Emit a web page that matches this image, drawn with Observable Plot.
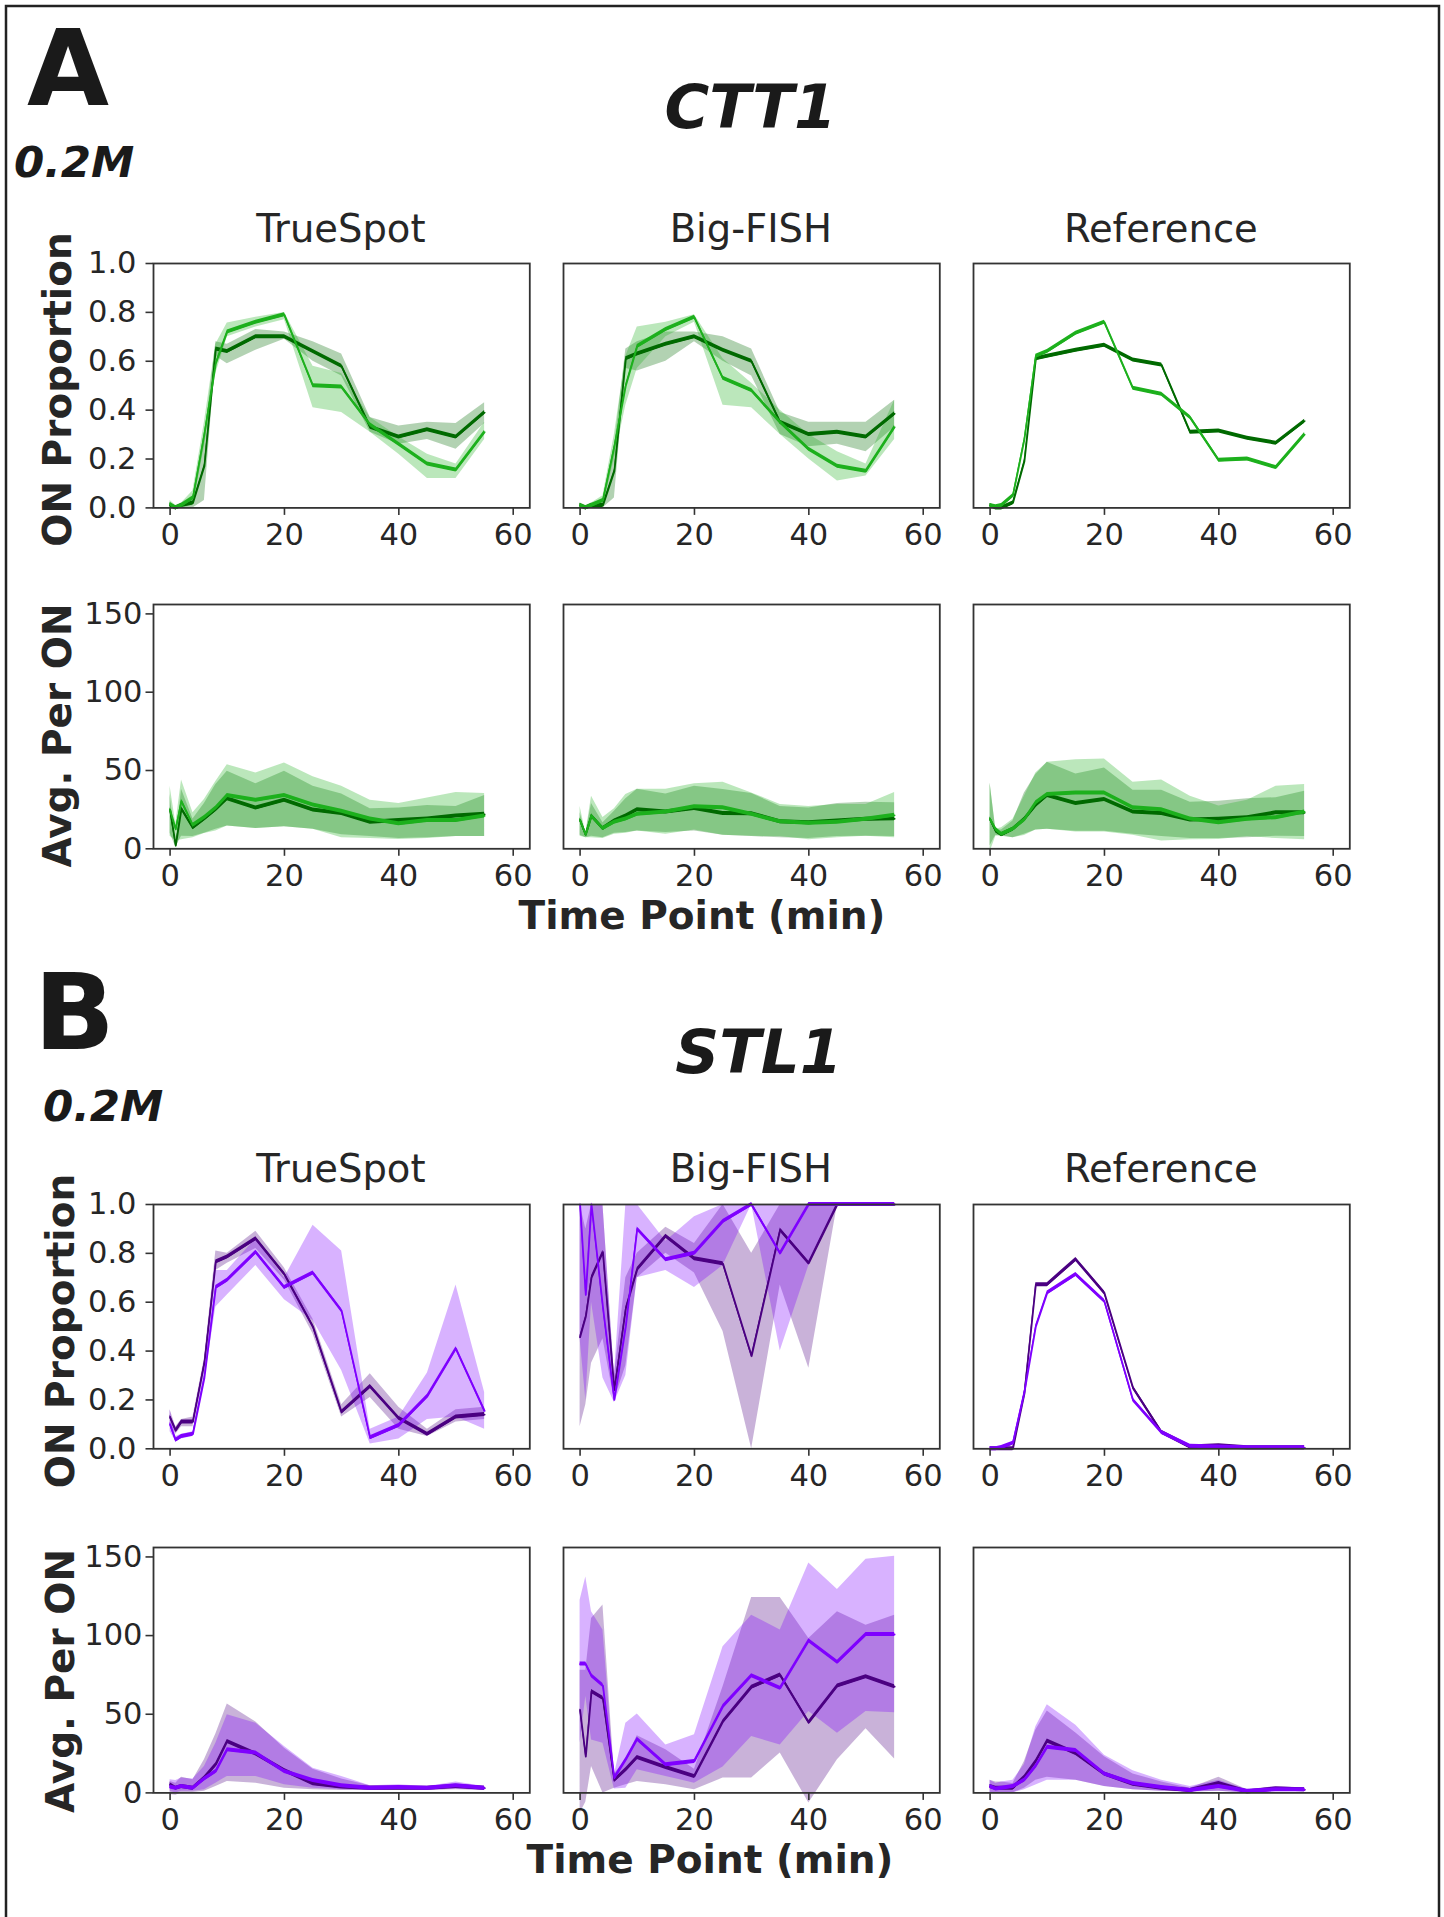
<!DOCTYPE html>
<html><head><meta charset="utf-8">
<script src="https://cdn.jsdelivr.net/npm/d3@7"></script>
<script src="https://cdn.jsdelivr.net/npm/@observablehq/plot@0.6"></script>
<style>
body{margin:0;background:#fff;}
#fig{position:relative;width:1444px;height:1917px;overflow:hidden;background:#fff;}
#fig svg.panel{position:absolute;}
</style></head><body><div id="fig"></div>
<script>
// ---------------- DATA ----------------
const times = [0,1,2,4,6,8,10,15,20,25,30,35,40,45,50,55];
const methods = ["TrueSpot","Big-FISH","Reference"];
const xTicks = [0,20,40,60];
const onTicks = [0,0.2,0.4,0.6,0.8,1.0];
const avgTicks = [0,50,100,150];

// CTT1 – ON proportion
const ctt1_ts_on_dark    = [0.01,0.00,0.01,0.02,0.17,0.65,0.64,0.70,0.70,0.64,0.58,0.33,0.29,0.32,0.29,0.39];
const ctt1_ts_on_dark_lo = [0.00,0.00,0.00,0.00,0.03,0.62,0.59,0.645,0.69,0.60,0.54,0.31,0.26,0.28,0.24,0.345];
const ctt1_ts_on_dark_hi = [0.02,0.01,0.02,0.05,0.28,0.68,0.67,0.73,0.72,0.68,0.63,0.37,0.335,0.35,0.345,0.43];
const ctt1_ts_on_light    = [0.015,0.00,0.01,0.04,0.30,0.59,0.72,0.76,0.79,0.50,0.495,0.34,0.26,0.18,0.155,0.31];
const ctt1_ts_on_light_lo = [0.00,0.00,0.00,0.01,0.25,0.55,0.70,0.74,0.77,0.41,0.39,0.31,0.22,0.12,0.12,0.28];
const ctt1_ts_on_light_hi = [0.03,0.01,0.02,0.07,0.35,0.67,0.757,0.78,0.80,0.58,0.55,0.37,0.29,0.22,0.18,0.35];

const ctt1_bf_on_dark    = [0.01,0.00,0.01,0.01,0.15,0.61,0.63,0.67,0.70,0.645,0.60,0.35,0.30,0.31,0.29,0.385];
const ctt1_bf_on_dark_lo = [0.00,0.00,0.00,0.00,0.04,0.57,0.56,0.60,0.68,0.60,0.54,0.30,0.25,0.26,0.23,0.33];
const ctt1_bf_on_dark_hi = [0.02,0.01,0.02,0.03,0.25,0.65,0.68,0.72,0.72,0.70,0.65,0.39,0.35,0.35,0.35,0.44];
const ctt1_bf_on_light    = [0.01,0.00,0.01,0.03,0.25,0.50,0.66,0.73,0.78,0.53,0.48,0.35,0.24,0.17,0.15,0.33];
const ctt1_bf_on_light_lo = [0.00,0.00,0.00,0.01,0.20,0.42,0.57,0.70,0.76,0.42,0.41,0.30,0.20,0.11,0.13,0.28];
const ctt1_bf_on_light_hi = [0.02,0.01,0.02,0.05,0.30,0.62,0.74,0.76,0.79,0.61,0.51,0.40,0.30,0.23,0.18,0.44];

const ctt1_ref_on_dark  = [0.01,0.00,0.00,0.02,0.19,0.61,0.62,0.645,0.665,0.605,0.585,0.31,0.315,0.285,0.265,0.355];
const ctt1_ref_on_light = [0.01,0.005,0.01,0.05,0.28,0.62,0.64,0.715,0.76,0.49,0.465,0.37,0.195,0.20,0.165,0.30];

// CTT1 – Avg. per ON
const ctt1_ts_avg_dark    = [25,2,25.6,13.5,19,25,32,26,31,24.7,22.6,17,18,19,21,22];
const ctt1_ts_avg_dark_lo = [10,1,8,7.8,10,12.5,14.6,13,14,12.5,9,7.8,6.5,7,7.8,7.8];
const ctt1_ts_avg_dark_hi = [34.7,3,38,19,29,41,49.5,41.6,49.5,40,35,25.6,26,27.7,27,34];
const ctt1_ts_avg_light    = [25,12.5,30.4,15,20,26,34,31,34,28,24,19,16,18,18,21];
const ctt1_ts_avg_light_lo = [8,5,5.7,7,9.7,11.4,14.6,13,14,12.5,7,6.5,6,6.5,7.8,7.8];
const ctt1_ts_avg_light_hi = [40,16,44,23,31.5,43,53.7,48.4,54.8,46,40,31,29,32.5,36,35.3];

const ctt1_bf_avg_dark    = [18.4,8.9,21,12.9,17.8,21,25,23.5,25.8,22.6,22.4,17.3,16.7,17.8,18.8,19.2];
const ctt1_bf_avg_dark_lo = [8.7,7,8,7,10,10.4,11.4,10.4,11.4,8.7,7.8,7,6.5,7.8,8,7.8];
const ctt1_bf_avg_dark_hi = [23,10,29,16.7,24,32,38,35,40,37.8,35.3,27,26,29,29.8,29.4];
const ctt1_bf_avg_light    = [18.4,8.9,21,12.9,17,19,22,23.5,26.8,26.2,22,17.3,16.3,17,18.8,21.4];
const ctt1_bf_avg_light_lo = [8,7,7,6.5,9.3,10,11.4,9.3,12,8.7,8,7.8,5.7,7,8,7];
const ctt1_bf_avg_light_hi = [27,10,33.6,20,25.6,34.7,38,38,41.6,42.5,35.7,28.3,27,28.3,28.3,36];

const ctt1_ref_avg_dark    = [19,11.4,8.9,12.5,18.8,27.7,34,29,31.5,23.5,22.6,18.4,18.8,19.9,23,23];
const ctt1_ref_avg_dark_lo = [2,8.7,8,7,9.3,12,12.5,11.2,11.2,9.3,7.8,6.5,6.5,7,8,7.8];
const ctt1_ref_avg_dark_hi = [42,12,12,17.7,35.7,47.4,55.2,47.8,51.6,37.4,37.4,29.8,30.4,32,32.6,36.8];
const ctt1_ref_avg_light    = [19,12.5,9.3,12.5,18.4,29.4,34.7,35.7,35.7,26.2,25,19,16.7,18.8,19.9,23.5];
const ctt1_ref_avg_light_lo = [-2,8,8.5,7,8.5,12,12.5,10.8,10.8,8.7,5,5.7,6,7.8,6.5,5.7];
const ctt1_ref_avg_light_hi = [42,12.5,13.5,18.8,33.6,48.4,55.2,56.9,57.3,42.5,44,33.6,27.3,31,40,41];

// STL1 – ON proportion
const stl1_ts_on_dark    = [0.13,0.075,0.11,0.11,0.35,0.765,0.785,0.86,0.715,0.50,0.15,0.255,0.125,0.06,0.13,0.14];
const stl1_ts_on_dark_lo = [0.10,0.06,0.09,0.09,0.33,0.73,0.76,0.82,0.69,0.47,0.13,0.21,0.08,0.05,0.11,0.12];
const stl1_ts_on_dark_hi = [0.16,0.09,0.12,0.13,0.37,0.81,0.80,0.89,0.74,0.53,0.18,0.307,0.17,0.08,0.16,0.17];
const stl1_ts_on_light    = [0.10,0.035,0.05,0.06,0.29,0.66,0.69,0.805,0.66,0.72,0.565,0.045,0.095,0.215,0.41,0.155];
const stl1_ts_on_light_lo = [0.07,0.03,0.04,0.05,0.27,0.58,0.63,0.75,0.61,0.525,0.32,0.02,0.04,0.12,0.13,0.08];
const stl1_ts_on_light_hi = [0.16,0.05,0.06,0.07,0.33,0.73,0.73,0.86,0.70,0.915,0.81,0.08,0.13,0.31,0.67,0.23];

const stl1_bf_on_dark    = [0.457,0.54,0.70,0.805,0.24,0.573,0.734,0.87,0.778,0.757,0.38,0.896,0.76,1.0,1.0,1.0];
const stl1_bf_on_dark_lo = [0.09,0.18,0.35,0.45,0.20,0.34,0.70,0.80,0.72,0.48,0.0,0.67,0.33,1.0,1.0,1.0];
const stl1_bf_on_dark_hi = [1.0,0.90,1.0,1.0,0.30,0.70,0.80,0.907,0.84,1.0,0.80,1.0,1.0,1.0,1.0,1.0];
const stl1_bf_on_light    = [1.0,0.63,1.0,0.58,0.20,0.50,0.90,0.774,0.80,0.93,1.0,0.80,1.0,1.0,1.0,1.0];
const stl1_bf_on_light_lo = [0.45,0.20,0.60,0.29,0.19,0.30,0.70,0.73,0.66,0.75,1.0,0.40,0.75,1.0,1.0,1.0];
const stl1_bf_on_light_hi = [1.0,1.0,1.0,1.0,0.30,1.0,1.0,0.85,0.95,1.0,1.0,1.0,1.0,1.0,1.0,1.0];

const stl1_ref_on_dark  = [0.0,0.0,0.0,0.0,0.225,0.672,0.672,0.775,0.638,0.25,0.068,0.007,0.012,0.004,0.004,0.004];
const stl1_ref_on_light = [0.0,0.0,0.005,0.023,0.23,0.50,0.638,0.713,0.604,0.20,0.067,0.01,0.007,0.004,0.004,0.004];

// STL1 – Avg. per ON
const stl1_ts_avg_dark    = [5.2,3,4.1,3,9.4,17.9,32.7,24.8,14.3,5.8,3.7,3,3,3,4,3];
const stl1_ts_avg_dark_lo = [-1,-1.5,0,0.3,1,4,7.3,6.2,3,2,1.6,1.6,1.6,1.6,2,1.6];
const stl1_ts_avg_dark_hi = [7.3,6.2,10,8.4,21,37.5,56.5,45,28.4,15,8.8,4.5,4.5,3.7,5.8,3.7];
const stl1_ts_avg_light    = [3.7,3,4.1,3,8.8,13.6,27.4,25.3,13.6,7.9,4.5,3,3.5,3,4.5,3];
const stl1_ts_avg_light_lo = [1,0,1,1,2,6.2,10.5,10.5,5.2,3,2,1.6,2,1.6,2.4,1.6];
const stl1_ts_avg_light_hi = [8.4,7.9,9.4,8.8,16.8,31.6,49.6,44.3,29.5,15.7,10.5,4.5,5.2,4,6.9,4];

const stl1_bf_avg_dark    = [52.7,23.1,64.4,60.1,7.9,14.7,22.5,16.2,10.5,45.3,67.1,74.9,44.7,68,73.9,67.5];
const stl1_bf_avg_dark_lo = [-13,-6,16.8,0,3,5.2,7.3,5.2,2,9.4,9.4,25.3,-6.4,21,40.7,21.5];
const stl1_bf_avg_dark_hi = [78,78,110.9,119.4,12,21,36.3,27.4,15.1,67.5,124.2,124.2,98.2,115.1,106.6,113];
const stl1_bf_avg_light    = [81.9,81.9,74.5,68.2,9.4,21,34.1,17.9,20,54.9,74.5,66.5,96.7,83,100.7,100.7];
const stl1_bf_avg_light_lo = [31.6,61.2,33.7,31.6,2.4,3,14.7,10.5,6.2,16.4,35.8,30.5,51.7,37.9,51.7,51];
const stl1_bf_avg_light_hi = [122.5,137.3,115.1,103.5,11.5,44.3,50.2,30.5,36.9,92.9,113,103.5,146.2,129.3,148.5,150.4];

const stl1_ref_avg_dark    = [4,3,3,3,10,20,33,25,12,5.5,3,1.5,6,0.5,2.5,2];
const stl1_ref_avg_dark_lo = [0,0,0,0,3,8,10,8,4,2,1,0.5,1,0,1,1];
const stl1_ref_avg_dark_hi = [8,7,7,6,20,40,52,38,23,12,7,3,10,2,4,3];
const stl1_ref_avg_light    = [4,2.5,3,4,8,17,29,27,12,6,3.5,1.5,4,1,2,2];
const stl1_ref_avg_light_lo = [0,0,0,0,2,5,8,8,4,2,1,0.5,1,0,1,1];
const stl1_ref_avg_light_hi = [8,6,7,8,18,42,56,43,24,14,8,4,8,2,4,3];

// ---------------- STYLE / LAYOUT ----------------
const GREEN_DARK = "#006a00", GREEN_LIGHT = "#1db01d";
const PURPLE_DARK = "#4b0082", PURPLE_LIGHT = "#7f00ff";
const colLeft = [152.7, 562.7, 972.7];
const panelW = 376.3;
const rows = [
  {top: 263.3, bottom: 507.7, domain: [0, 1], ticks: onTicks, fmt: d3.format(".1f"), pad: 9.5},
  {top: 604.0, bottom: 848.3, domain: [0, 156], ticks: avgTicks, fmt: d => String(d), pad: 3.5},
  {top: 1204.0, bottom: 1448.3, domain: [0, 1], ticks: onTicks, fmt: d3.format(".1f"), pad: 9.5},
  {top: 1547.3, bottom: 1792.7, domain: [0, 156], ticks: avgTicks, fmt: d => String(d), pad: 3.5}
];

function series(mean, lo, hi) {
  return times.map((t, i) => ({t, v: mean[i], lo: lo ? lo[i] : null, hi: hi ? hi[i] : null}));
}

const panelDefs = [
  {r:0,c:0,col:[GREEN_DARK,GREEN_LIGHT],d:series(ctt1_ts_on_dark,ctt1_ts_on_dark_lo,ctt1_ts_on_dark_hi),l:series(ctt1_ts_on_light,ctt1_ts_on_light_lo,ctt1_ts_on_light_hi)},
  {r:0,c:1,col:[GREEN_DARK,GREEN_LIGHT],d:series(ctt1_bf_on_dark,ctt1_bf_on_dark_lo,ctt1_bf_on_dark_hi),l:series(ctt1_bf_on_light,ctt1_bf_on_light_lo,ctt1_bf_on_light_hi)},
  {r:0,c:2,col:[GREEN_DARK,GREEN_LIGHT],d:series(ctt1_ref_on_dark),l:series(ctt1_ref_on_light)},
  {r:1,c:0,col:[GREEN_DARK,GREEN_LIGHT],d:series(ctt1_ts_avg_dark,ctt1_ts_avg_dark_lo,ctt1_ts_avg_dark_hi),l:series(ctt1_ts_avg_light,ctt1_ts_avg_light_lo,ctt1_ts_avg_light_hi)},
  {r:1,c:1,col:[GREEN_DARK,GREEN_LIGHT],d:series(ctt1_bf_avg_dark,ctt1_bf_avg_dark_lo,ctt1_bf_avg_dark_hi),l:series(ctt1_bf_avg_light,ctt1_bf_avg_light_lo,ctt1_bf_avg_light_hi)},
  {r:1,c:2,col:[GREEN_DARK,GREEN_LIGHT],d:series(ctt1_ref_avg_dark,ctt1_ref_avg_dark_lo,ctt1_ref_avg_dark_hi),l:series(ctt1_ref_avg_light,ctt1_ref_avg_light_lo,ctt1_ref_avg_light_hi)},
  {r:2,c:0,col:[PURPLE_DARK,PURPLE_LIGHT],d:series(stl1_ts_on_dark,stl1_ts_on_dark_lo,stl1_ts_on_dark_hi),l:series(stl1_ts_on_light,stl1_ts_on_light_lo,stl1_ts_on_light_hi)},
  {r:2,c:1,col:[PURPLE_DARK,PURPLE_LIGHT],d:series(stl1_bf_on_dark,stl1_bf_on_dark_lo,stl1_bf_on_dark_hi),l:series(stl1_bf_on_light,stl1_bf_on_light_lo,stl1_bf_on_light_hi)},
  {r:2,c:2,col:[PURPLE_DARK,PURPLE_LIGHT],d:series(stl1_ref_on_dark),l:series(stl1_ref_on_light)},
  {r:3,c:0,col:[PURPLE_DARK,PURPLE_LIGHT],d:series(stl1_ts_avg_dark,stl1_ts_avg_dark_lo,stl1_ts_avg_dark_hi),l:series(stl1_ts_avg_light,stl1_ts_avg_light_lo,stl1_ts_avg_light_hi)},
  {r:3,c:1,col:[PURPLE_DARK,PURPLE_LIGHT],d:series(stl1_bf_avg_dark,stl1_bf_avg_dark_lo,stl1_bf_avg_dark_hi),l:series(stl1_bf_avg_light,stl1_bf_avg_light_lo,stl1_bf_avg_light_hi)},
  {r:3,c:2,col:[PURPLE_DARK,PURPLE_LIGHT],d:series(stl1_ref_avg_dark,stl1_ref_avg_dark_lo,stl1_ref_avg_dark_hi),l:series(stl1_ref_avg_light,stl1_ref_avg_light_lo,stl1_ref_avg_light_hi)}
];

const fig = document.getElementById("fig");
const mL = 80, mR = 30, mT = 12, mB = 55;
const TICK_FONT = 30.5;

for (const p of panelDefs) {
  const row = rows[p.r];
  const H = row.bottom - row.top;
  const span = row.domain[1] - row.domain[0];
  const half = 2.0 * span / H;       // half vertical thickness of the drawn line (≈2px)
  const marks = [];
  for (const [s, color] of [[p.d, p.col[0]], [p.l, p.col[1]]]) {
    if (s[0].lo != null) {
      marks.push(Plot.areaY(s, {x: "t", y1: "lo", y2: "hi", fill: color, fillOpacity: 0.3, curve: "linear"}));
    }
  }
  for (const [s, color] of [[p.d, p.col[0]], [p.l, p.col[1]]]) {
    marks.push(Plot.areaY(s, {x: "t", y1: d => d.v - half, y2: d => d.v + half, fill: color}));
    marks.push(Plot.line(s, {x: "t", y: "v", stroke: color, strokeWidth: 1.8}));
  }
  marks.push(Plot.frame({stroke: "#333", strokeWidth: 1.8}));
  marks.push(Plot.axisX({ticks: xTicks, tickSize: 7.5, tickPadding: 8, label: null,
    fontSize: TICK_FONT, strokeWidth: 1.6, stroke: "#333", fill: "#262626"}));
  if (p.c === 0) {
    marks.push(Plot.axisY({ticks: row.ticks, tickFormat: row.fmt, tickSize: 7.5, tickPadding: row.pad, label: null,
      fontSize: TICK_FONT, strokeWidth: 1.6, stroke: "#333", fill: "#262626"}));
  }
  const svg = Plot.plot({
    width: panelW + mL + mR, height: H + mT + mB,
    marginLeft: mL, marginRight: mR, marginTop: mT, marginBottom: mB,
    x: {domain: [-2.9, 62.9]},
    y: {domain: row.domain, axis: p.c === 0 ? undefined : null},
    style: {fontFamily: "DejaVu Sans, sans-serif", fontSize: TICK_FONT + "px", color: "#262626", background: "none", overflow: "visible"},
    marks
  });
  svg.classList.add("panel");
  svg.style.left = (colLeft[p.c] - mL) + "px";
  svg.style.top = (row.top - mT) + "px";
  fig.appendChild(svg);
}

// ---------------- TEXT OVERLAY ----------------
const ov = d3.select(fig).append("svg")
  .attr("width", 1444).attr("height", 1917)
  .style("position", "absolute").style("left", 0).style("top", 0)
  .style("font-family", "DejaVu Sans, sans-serif").style("fill", "#262626");

ov.append("rect").attr("x", 6).attr("y", 6).attr("width", 1433).attr("height", 1930)
  .attr("fill", "none").attr("stroke", "#222").attr("stroke-width", 2.5);

const colCenter = colLeft.map(x => x + panelW / 2);
const sections = [
  {letter: "A", lx: 27, ly: 105, gene: "CTT1", gx: 750.5, gy: 127.7, conc: "0.2M", cx: 14, cy: 176.7, titleY: 241.7,
   onY: 389.5, onX: 71, avgY: 735.5, avgX: 71, timeX: 702, timeY: 929},
  {letter: "B", lx: 34, ly: 1049, gene: "STL1", gx: 758.7, gy: 1073, conc: "0.2M", cx: 43, cy: 1121, titleY: 1182.4,
   onY: 1331, onX: 74, avgY: 1681, avgX: 74, timeX: 710, timeY: 1873}
];
for (const s of sections) {
  ov.append("text").attr("x", s.lx).attr("y", s.ly).text(s.letter)
    .style("font-size", "106px").style("font-weight", "bold").style("fill", "#1a1a1a");
  ov.append("text").attr("x", s.gx).attr("y", s.gy).attr("text-anchor", "middle").text(s.gene)
    .style("font-size", "61px").style("font-weight", "bold").style("font-style", "italic").style("fill", "#1a1a1a");
  ov.append("text").attr("x", s.cx).attr("y", s.cy).text(s.conc)
    .style("font-size", "43.5px").style("font-weight", "bold").style("font-style", "italic").style("fill", "#1a1a1a");
  methods.forEach((m, i) => {
    ov.append("text").attr("x", colCenter[i]).attr("y", s.titleY).attr("text-anchor", "middle").text(m)
      .style("font-size", "38.5px");
  });
  ov.append("text").attr("transform", `translate(${s.onX},${s.onY}) rotate(-90)`).attr("text-anchor", "middle")
    .text("ON Proportion").style("font-size", "39px").style("font-weight", "bold");
  ov.append("text").attr("transform", `translate(${s.avgX},${s.avgY}) rotate(-90)`).attr("text-anchor", "middle")
    .text("Avg. Per ON").style("font-size", "39px").style("font-weight", "bold");
  ov.append("text").attr("x", s.timeX).attr("y", s.timeY).attr("text-anchor", "middle")
    .text("Time Point (min)").style("font-size", "39px").style("font-weight", "bold");
}
</script></body></html>
